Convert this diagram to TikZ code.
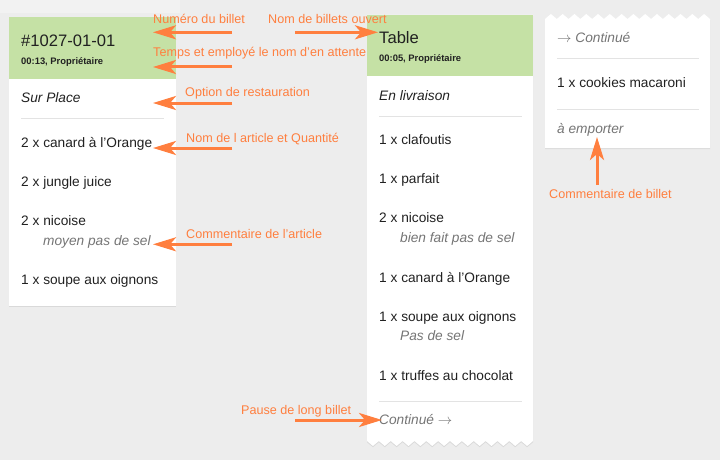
\documentclass[tikz,border=0pt]{standalone}
\usepackage{fontspec}
\setmainfont{Liberation Sans}
\usetikzlibrary{arrows.meta,shadows}
\definecolor{bg}{HTML}{EDEDED}
\definecolor{bglight}{HTML}{F2F2F2}
\definecolor{hdrgreen}{HTML}{C5E1A5}
\definecolor{ink}{HTML}{212121}
\definecolor{mute}{HTML}{757575}
\definecolor{sepgray}{HTML}{E3E3E3}
\definecolor{anno}{HTML}{FF7F3F}
\newcommand{\contarrow}{\ensuremath{\rightarrow}}
\tikzset{
  card/.style={fill=white, drop shadow={opacity=0.18, shadow xshift=0pt, shadow yshift=-1.2pt}},
  hdr/.style={fill=hdrgreen},
  sepline/.style={draw=sepgray, line width=1pt},
  txt/.style={anchor=base west, inner sep=0pt, text=ink, font=\fontsize{13.7}{16}\selectfont},
  itxt/.style={txt, font=\fontsize{13.7}{16}\selectfont\itshape},
  cmt/.style={txt, text=mute, font=\fontsize{13.7}{16}\selectfont\itshape},
  big/.style={txt, font=\fontsize{16.6}{19}\selectfont},
  meta/.style={txt, font=\fontsize{9.4}{11}\selectfont\bfseries},
  note/.style={anchor=base west, inner sep=0pt, text=anno, font=\fontsize{12.6}{15}\selectfont},
  arr/.style={draw=anno, line width=3pt, -{Stealth[length=23pt,width=14pt,inset=6pt]}},
}
\begin{document}
\begin{tikzpicture}[x=1pt,y=-1pt]
\useasboundingbox (0,0) rectangle (720,460);
\fill[bg] (0,0) rectangle (720,460);
\fill[bglight] (0,0) rectangle (180,13);

% ---------- card 1 ----------
\fill[card] (9,17) rectangle (176,306);
\fill[hdr] (9,17) rectangle (176,79);
\node[big]  (c1num)  at (21,46.5) {\#1027-01-01};
\node[meta] (c1meta) at (21,64.5) {00:13, Propriétaire};
\node[itxt] (c1opt)  at (21,102) {Sur Place};
\draw[sepline] (21,118) -- (164,118);
\node[txt] (c1i1) at (21,147.5) {2 x canard à l'Orange};
\node[txt] (c1i2) at (21,186.5) {2 x jungle juice};
\node[txt] (c1i3) at (21,225.5) {2 x nicoise};
\node[cmt] (c1c3) at (43,245.5) {moyen pas de sel};
\node[txt] (c1i4) at (21,284.5) {1 x soupe aux oignons};

% ---------- card 2 ----------
\fill[card] (367,15) -- (533,15) -- (533,441)
  \foreach \i in {0,...,13} { -- ({533-(\i+0.5)*11.857},446) -- ({533-(\i+1)*11.857},441) } -- cycle;
\fill[hdr] (367,15) rectangle (533,76);
\node[big]  (c2num)  at (379,43.5) {Table};
\node[meta] (c2meta) at (379,62) {00:05, Propriétaire};
\node[itxt] (c2opt)  at (379,100) {En livraison};
\draw[sepline] (379,116) -- (522,116);
\node[txt] (c2i1) at (379,144) {1 x clafoutis};
\node[txt] (c2i2) at (379,183) {1 x parfait};
\node[txt] (c2i3) at (379,222.5) {2 x nicoise};
\node[cmt] (c2c3) at (400,242) {bien fait pas de sel};
\node[txt] (c2i4) at (379,282) {1 x canard à l'Orange};
\node[txt] (c2i5) at (379,321) {1 x soupe aux oignons};
\node[cmt] (c2c5) at (400,340.5) {Pas de sel};
\node[txt] (c2i6) at (379,380) {1 x truffes au chocolat};
\draw[sepline] (379,401) -- (522,401);
\node[cmt] (c2cont) at (379,424.5) {Continué \contarrow};

% ---------- card 3 ----------
\fill[card] (545,148) -- (545,19)
  \foreach \i in {0,...,13} { -- ({545+(\i+0.5)*11.786},14) -- ({545+(\i+1)*11.786},19) } -- (710,148) -- cycle;
\node[cmt] (c3cont) at (557,43) {\contarrow\ Continué};
\draw[sepline] (557,59) -- (699,59);
\node[txt] (c3i1) at (557,88) {1 x cookies macaroni};
\draw[sepline] (557,109) -- (699,109);
\node[cmt] (c3note) at (557,133) {à emporter};

% ---------- annotations ----------
\node[note] (n1) at (153,24) {Numéro du billet};
\node[note] (n2) at (268,24) {Nom de billets ouvert};
\node[note] (n3) at (153,57) {Temps et employé le nom d'en attente};
\node[note] (n4) at (185,96.5) {Option de restauration};
\node[note] (n5) at (186,142) {Nom de l article et Quantité};
\node[note] (n6) at (186,238) {Commentaire de l'article};
\node[note] (n7) at (549,198) {Commentaire de billet};
\node[note] (n8) at (241,414) {Pause de long billet};

\coordinate (a1s) at (232,32.3);  \coordinate (a1e) at (153,32.3);
\coordinate (a2s) at (295,32.3);  \coordinate (a2e) at (378,32.3);
\coordinate (a3s) at (232,67);    \coordinate (a3e) at (153,67);
\coordinate (a4s) at (232,103);   \coordinate (a4e) at (153,103);
\coordinate (a5s) at (232,148);   \coordinate (a5e) at (153,148);
\coordinate (a6s) at (232,244.3); \coordinate (a6e) at (153,244.3);
\coordinate (a7s) at (597,185);   \coordinate (a7e) at (597,137);
\coordinate (a8s) at (295,420);   \coordinate (a8e) at (382,420);
\draw[arr] (a1s) -- (a1e);
\draw[arr] (a2s) -- (a2e);
\draw[arr] (a3s) -- (a3e);
\draw[arr] (a4s) -- (a4e);
\draw[arr] (a5s) -- (a5e);
\draw[arr] (a6s) -- (a6e);
\draw[arr] (a7s) -- (a7e);
\draw[arr] (a8s) -- (a8e);
\end{tikzpicture}
\end{document}
